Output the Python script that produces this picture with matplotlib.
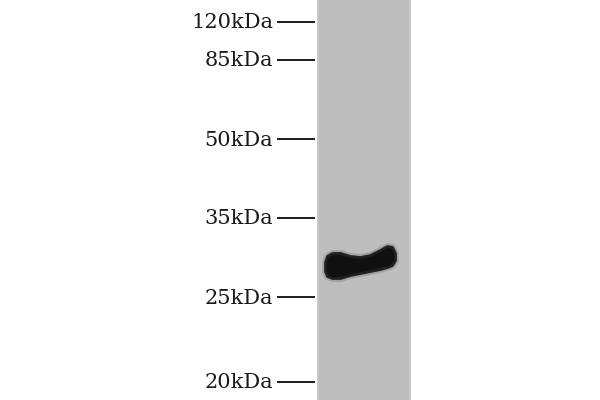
import matplotlib
matplotlib.use("Agg")
import matplotlib.pyplot as plt

# marker ladder: label and migration (pixels from top of blot)
marker_labels = ["120kDa", "85kDa", "50kDa", "35kDa", "25kDa", "20kDa"]
marker_pos = [22, 60, 139, 218, 297, 382]

# lane extent
lane_left = 317
lane_right = 411

# band outline (x along lane, top / bottom edges in migration pixels)
band_x = [325, 327, 332, 340, 350, 360, 370, 380, 387, 392, 395]
band_top = [262, 256, 253, 253, 256, 257, 255, 250, 246, 247, 253]
band_bot = [271, 276, 278, 278, 275, 273, 271, 269, 267, 265, 260]

fig = plt.figure(figsize=(6, 4), dpi=100)
ax = fig.add_axes([0, 0, 1, 1])
ax.set_xlim(0, 600)
ax.set_ylim(400, 0)
ax.axis("off")

# lane
ax.axvspan(lane_left, lane_right, color="#bebebe", lw=0)
ax.axvspan(lane_left, lane_left + 2, color="#c6c6c6", lw=0)
ax.axvspan(lane_right - 2, lane_right, color="#c6c6c6", lw=0)

# band with a soft halo
ax.fill_between(band_x, band_top, band_bot, color="#333333", lw=5,
                edgecolor="#888888", alpha=0.5)
ax.fill_between(band_x, band_top, band_bot, color="#101010", lw=2,
                edgecolor="#202020")

# ladder ticks and labels
for lab, y in zip(marker_labels, marker_pos):
    ax.plot([278, 314], [y, y], color="#1a1a1a", lw=1.4)
    ax.text(273, y + 1, lab, ha="right", va="center", fontsize=15,
            family="DejaVu Serif", color="#1a1a1a")

fig.savefig("out.png", dpi=100)
